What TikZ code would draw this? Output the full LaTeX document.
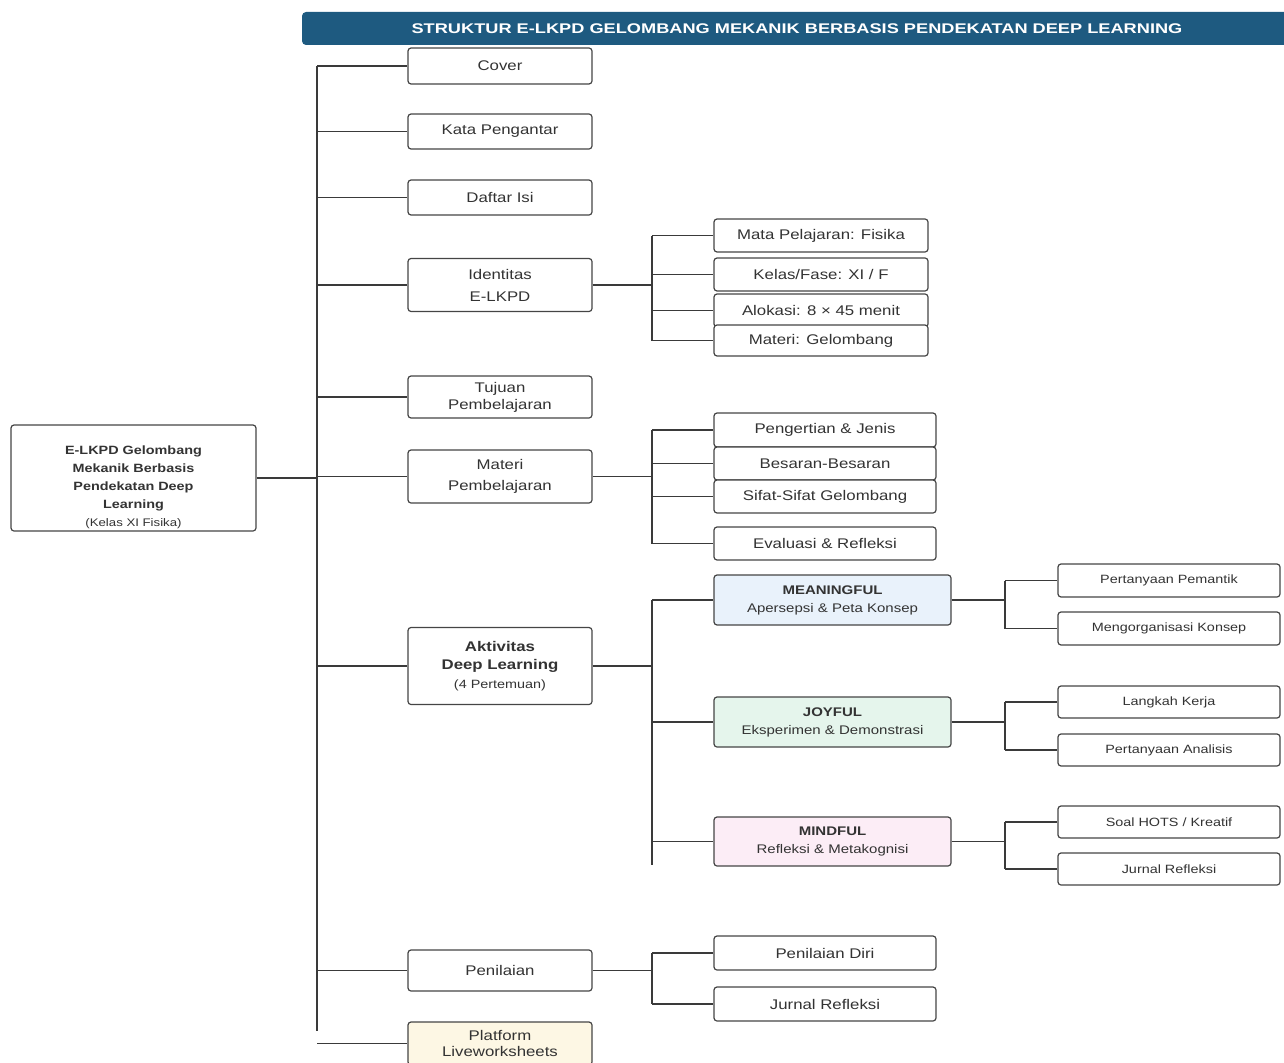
\documentclass[tikz,border=0pt]{standalone}
\usepackage{fontspec}
\setmainfont{Liberation Sans}[FakeStretch=1.2]
\newfontfamily\titlefont{Liberation Sans}[FakeStretch=1.3]
\definecolor{titlebg}{HTML}{1E5A80}
\definecolor{boxc}{HTML}{454545}
\definecolor{linec}{HTML}{3A3A3A}
\definecolor{txt}{HTML}{333333}
\definecolor{meanfill}{HTML}{E9F2FB}
\definecolor{joyfill}{HTML}{E5F5EC}
\definecolor{mindfill}{HTML}{FCEDF6}
\definecolor{platfill}{HTML}{FDF7E4}
\tikzset{
  box/.style={draw=boxc, line width=1.2pt, rounded corners=3pt, fill=white, inner sep=0pt,
    align=center, text=txt, font=\fontsize{14}{17}\selectfont},
  smallbox/.style={box, font=\fontsize{12}{15}\selectfont},
  conn/.style={draw=linec, line width=1.6pt},
  titlebar/.style={fill=titlebg, rounded corners=4pt, inner sep=0pt, text=white,
    font=\titlefont\bfseries\fontsize{14}{16}\selectfont}
}
\begin{document}
\begin{tikzpicture}[x=1pt,y=-1pt]
\useasboundingbox (0,0) rectangle (1284,1062);
\node[titlebar, minimum width=990, minimum height=33] (title) at (797,28.5)
  {STRUKTUR E-LKPD GELOMBANG MEKANIK BERBASIS PENDEKATAN DEEP LEARNING};

% root
\node[box, minimum width=245, minimum height=106] (root) at (133.5,478)
  {\raisebox{-12pt}[0pt][0pt]{\fontsize{12}{18}\selectfont\begin{tabular}{@{}c@{}}\textbf{E-LKPD Gelombang}\\\textbf{Mekanik Berbasis}\\\textbf{Pendekatan Deep}\\\textbf{Learning}\\{\fontsize{11}{13}\selectfont (Kelas XI Fisika)}\end{tabular}}};

% level 1
\node[box, minimum width=184, minimum height=36] (cover) at (500,66) {Cover};
\node[box, minimum width=184, minimum height=35] (kata) at (500,131.5) {Kata Pengantar};
\node[box, minimum width=184, minimum height=35] (daftar) at (500,197.5) {Daftar Isi};
\node[box, minimum width=184, minimum height=53, font=\fontsize{14}{22}\selectfont] (ident) at (500,285) {Identitas\\E-LKPD};
\node[box, minimum width=184, minimum height=42, font=\fontsize{14}{17}\selectfont] (tujuan) at (500,397) {Tujuan\\Pembelajaran};
\node[box, minimum width=184, minimum height=53, font=\fontsize{14}{21}\selectfont] (materi) at (500,476.5) {Materi\\Pembelajaran};
\node[box, minimum width=184, minimum height=77, font=\fontsize{14}{18.5}\selectfont] (aktiv) at (500,666)
  {\textbf{Aktivitas}\\\textbf{Deep Learning}\\{\fontsize{12}{14}\selectfont (4 Pertemuan)}};
\node[box, minimum width=184, minimum height=41] (penil) at (500,970.5) {Penilaian};
\node[box, fill=platfill, minimum width=184, minimum height=43, font=\fontsize{14}{16}\selectfont] (platform) at (500,1043.5) {Platform\\Liveworksheets};

% identitas children
\node[box, minimum width=214, minimum height=33] (m1) at (821,235.5) {Mata Pelajaran: Fisika};
\node[box, minimum width=214, minimum height=33] (m2) at (821,274.5) {Kelas/Fase: XI / F};
\node[box, minimum width=214, minimum height=33] (m3) at (821,310.5) {Alokasi: 8 × 45 menit};
\node[box, minimum width=214, minimum height=31] (m4) at (821,340.5) {Materi: Gelombang};

% materi children
\node[box, minimum width=222, minimum height=34] (p1) at (825,430) {Pengertian \& Jenis};
\node[box, minimum width=222, minimum height=33] (p2) at (825,463.5) {Besaran-Besaran};
\node[box, minimum width=222, minimum height=33] (p3) at (825,496.5) {Sifat-Sifat Gelombang};
\node[box, minimum width=222, minimum height=33] (p4) at (825,543.5) {Evaluasi \& Refleksi};

% aktivitas children
\node[box, fill=meanfill, minimum width=237, minimum height=50, font=\fontsize{12.5}{18}\selectfont] (mean) at (832.5,600)
  {\textbf{MEANINGFUL}\\Apersepsi \& Peta Konsep};
\node[box, fill=joyfill, minimum width=237, minimum height=50, font=\fontsize{12.5}{18}\selectfont] (joy) at (832.5,722)
  {\textbf{JOYFUL}\\Eksperimen \& Demonstrasi};
\node[box, fill=mindfill, minimum width=237, minimum height=49, font=\fontsize{12.5}{18}\selectfont] (mind) at (832.5,841.5)
  {\textbf{MINDFUL}\\Refleksi \& Metakognisi};

% grandchildren
\node[smallbox, minimum width=222, minimum height=33] (g1) at (1169,580.5) {Pertanyaan Pemantik};
\node[smallbox, minimum width=222, minimum height=33] (g2) at (1169,628.5) {Mengorganisasi Konsep};
\node[smallbox, minimum width=222, minimum height=32] (g3) at (1169,702) {Langkah Kerja};
\node[smallbox, minimum width=222, minimum height=32] (g4) at (1169,750) {Pertanyaan Analisis};
\node[smallbox, minimum width=222, minimum height=32] (g5) at (1169,822) {Soal HOTS / Kreatif};
\node[smallbox, minimum width=222, minimum height=32] (g6) at (1169,869) {Jurnal Refleksi};

% penilaian children
\node[box, minimum width=222, minimum height=34] (d1) at (825,953) {Penilaian Diri};
\node[box, minimum width=222, minimum height=34] (d2) at (825,1004) {Jurnal Refleksi};

% bus coordinates
\coordinate (sp) at (317,0);
\coordinate (spB) at (317,1031);
\coordinate (ib) at (652,0);
\coordinate (aEnd) at (652,865);
\coordinate (gb) at (1005,0);

% spine
\draw[conn] (root.east) -- (sp |- root.east);
\draw[conn] (sp |- cover.west) -- (spB);
\foreach \n in {cover,kata,daftar,ident,tujuan,materi,aktiv,penil,platform}
  \draw[conn] (sp |- \n.west) -- (\n.west);

% identitas
\draw[conn] (ident.east) -- (ib |- ident.east);
\draw[conn] (ib |- m1.west) -- (ib |- m4.west);
\foreach \n in {m1,m2,m3,m4} \draw[conn] (ib |- \n.west) -- (\n.west);

% materi
\draw[conn] (materi.east) -- (ib |- materi.east);
\draw[conn] (ib |- p1.west) -- (ib |- p4.west);
\foreach \n in {p1,p2,p3,p4} \draw[conn] (ib |- \n.west) -- (\n.west);

% aktivitas
\draw[conn] (aktiv.east) -- (ib |- aktiv.east);
\draw[conn] (ib |- mean.west) -- (aEnd);
\foreach \n in {mean,joy,mind} \draw[conn] (ib |- \n.west) -- (\n.west);

% grandchildren
\draw[conn] (mean.east) -- (gb |- mean.east);
\draw[conn] (gb |- g1.west) -- (gb |- g2.west);
\draw[conn] (joy.east) -- (gb |- joy.east);
\draw[conn] (gb |- g3.west) -- (gb |- g4.west);
\draw[conn] (mind.east) -- (gb |- mind.east);
\draw[conn] (gb |- g5.west) -- (gb |- g6.west);
\foreach \n in {g1,g2,g3,g4,g5,g6} \draw[conn] (gb |- \n.west) -- (\n.west);

% penilaian
\draw[conn] (penil.east) -- (ib |- penil.east);
\draw[conn] (ib |- d1.west) -- (ib |- d2.west);
\foreach \n in {d1,d2} \draw[conn] (ib |- \n.west) -- (\n.west);
\end{tikzpicture}
\end{document}
